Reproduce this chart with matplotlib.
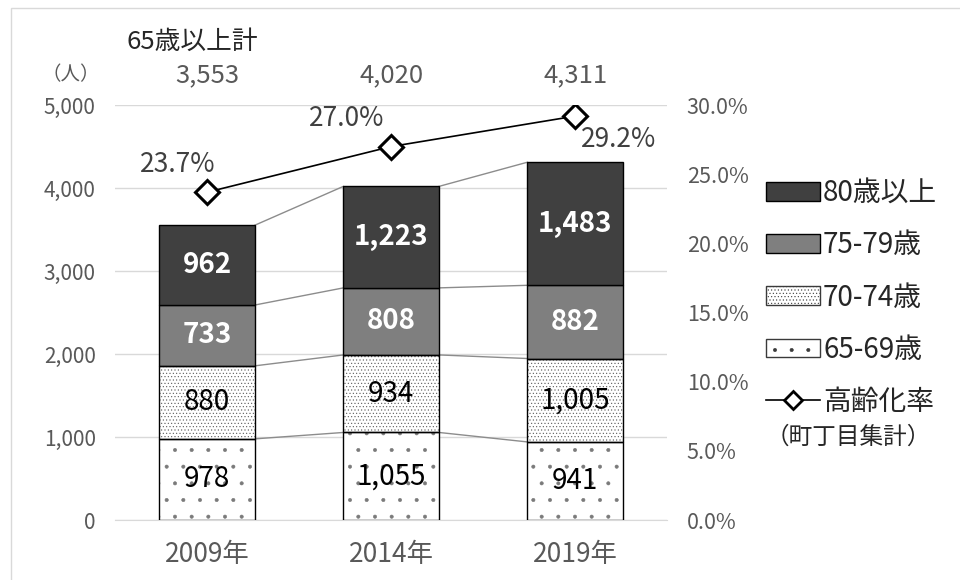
import matplotlib
matplotlib.use("Agg")
import matplotlib.pyplot as plt
from matplotlib.patches import Patch, Rectangle
from matplotlib.lines import Line2D
import numpy as np

plt.rcParams['font.family'] = ['Noto Sans CJK JP', 'DejaVu Sans']
plt.rcParams['hatch.linewidth'] = 0.4

years = ['2009年', '2014年', '2019年']
age_65_69 = [978, 1055, 941]
age_70_74 = [880, 934, 1005]
age_75_79 = [733, 808, 882]
age_80_up = [962, 1223, 1483]
totals = [3553, 4020, 4311]
aging_rate = [23.7, 27.0, 29.2]

# name, values, face, hatch, hatch colour, label colour
series = [
    ('65-69歳', age_65_69, 'white', '.', '#7a7a7a', 'black'),
    ('70-74歳', age_70_74, 'white', '.....', '#5a5a5a', 'black'),
    ('75-79歳', age_75_79, '#7f7f7f', None, None, 'white'),
    ('80歳以上', age_80_up, '#404040', None, None, 'white'),
]

fig = plt.figure(figsize=(9.6, 5.8), dpi=100)
ax = fig.add_axes([0.12, 0.1034, 0.575, 0.7155])
ax2 = ax.twinx()

x = np.arange(len(years))
w = 0.52
bottom = np.zeros(len(years))
gray = '#595959'
for name, vals, color, hatch, hc, tc in series:
    vals = np.array(vals)
    if hatch:
        ax.bar(x, vals, w, bottom=bottom, color=color, edgecolor=hc,
               linewidth=0, hatch=hatch, zorder=3)
        ax.bar(x, vals, w, bottom=bottom, fill=False, edgecolor='black',
               linewidth=1.0, zorder=4)
    else:
        ax.bar(x, vals, w, bottom=bottom, color=color, edgecolor='black',
               linewidth=1.0, zorder=3)
    for i, v in enumerate(vals):
        ax.text(x[i], bottom[i] + v / 2, f'{v:,}', ha='center', va='center',
                fontsize=20, color=tc,
                fontweight='bold' if tc == 'white' else 'normal', zorder=5)
    top = bottom + vals
    for i in range(len(years) - 1):
        ax.plot([x[i] + w / 2, x[i + 1] - w / 2], [top[i], top[i + 1]],
                color='#8c8c8c', lw=1.0, zorder=2)
    bottom = top

for i, t in enumerate(totals):
    ax.text(x[i], 5360, f'{t:,}', ha='center', va='center', fontsize=18.5,
            color=gray, clip_on=False)
ax.text(x[0] - 0.44, 5760, '65歳以上計', ha='left', va='center', fontsize=18.5,
        color='#262626', clip_on=False)
ax.text(-0.74, 5370, '（人）', ha='center', va='center', fontsize=14,
        color=gray, clip_on=False)

ax.set_xlim(-0.5, 2.5)
ax.set_ylim(0, 5000)
ax.set_yticks(np.arange(0, 5001, 1000))
ax.set_yticklabels([f'{v:,}' for v in range(0, 5001, 1000)])
ax.set_xticks(x)
ax.set_xticklabels(years, fontsize=19, color=gray)
ax.tick_params(axis='y', length=0, labelsize=15, colors=gray, pad=14)
ax.tick_params(axis='x', length=0, pad=15)
ax.grid(axis='y', color='#d9d9d9', lw=1.0, zorder=0)
ax.set_axisbelow(True)
for s in ax.spines.values():
    s.set_visible(False)
for s in ax2.spines.values():
    s.set_visible(False)
ax.spines['bottom'].set_visible(True)
ax.spines['bottom'].set_color('#d9d9d9')

ax2.plot(x, aging_rate, color='black', lw=1.2, marker='D', markersize=12.5,
         markerfacecolor='white', markeredgecolor='black', markeredgewidth=2.2,
         zorder=6)
ax2.set_ylim(0, 30)
ax2.set_yticks(np.arange(0, 31, 5))
ax2.set_yticklabels([f'{v:.1f}%' for v in range(0, 31, 5)])
ax2.tick_params(axis='y', length=0, labelsize=15.5, colors=gray, pad=14)
# label offsets in pixels from each marker
offsets = [(8, 28, 'right'), (-7, 28, 'right'), (6, -23, 'left')]
for i, r in enumerate(aging_rate):
    dx, dy, ha = offsets[i]
    ax2.annotate(f'{r:.1f}%', (x[i], r), xytext=(dx, dy),
                 textcoords='offset pixels', ha=ha, va='center', fontsize=19,
                 color='#404040', zorder=7)
ax2.set_zorder(ax.get_zorder() + 1)
ax2.patch.set_visible(False)

handles = [
    Patch(facecolor='#404040', edgecolor='black', label='80歳以上'),
    Patch(facecolor='#7f7f7f', edgecolor='black', label='75-79歳'),
    Patch(facecolor='white', edgecolor='#3a3a3a', hatch='.....', label='70-74歳'),
    Patch(facecolor='white', edgecolor='#3a3a3a', hatch='.', label='65-69歳'),
    Line2D([0], [0], color='black', lw=1.2, marker='D', markersize=9,
           markerfacecolor='white', markeredgecolor='black', markeredgewidth=2,
           label='高齢化率'),
]
leg = fig.legend(handles=handles, loc='upper left', bbox_to_anchor=(0.798, 0.693),
                 frameon=False, fontsize=20, handlelength=1.95, handleheight=0.65,
                 handletextpad=0.1, labelspacing=0.8, borderaxespad=0,
                 borderpad=0)
for t in leg.get_texts():
    t.set_color('#262626')
fig.text(0.797, 0.247, '（町丁目集計）', fontsize=17, color='#262626',
         ha='left', va='center')

fig.patches.append(Rectangle((0.011, -0.01), 1.2, 0.996, transform=fig.transFigure,
                             fill=False, edgecolor='#d9d9d9', lw=1.0))

fig.savefig('out.png', dpi=100)
